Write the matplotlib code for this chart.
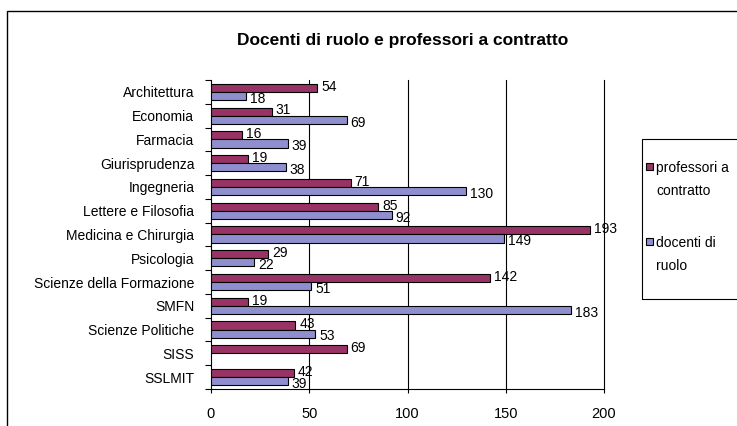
import matplotlib
matplotlib.use("Agg")
import matplotlib.pyplot as plt
import numpy as np
from matplotlib.patches import Rectangle

categories = ["Architettura", "Economia", "Farmacia", "Giurisprudenza", "Ingegneria",
              "Lettere e Filosofia", "Medicina e Chirurgia", "Psicologia",
              "Scienze della Formazione", "SMFN", "Scienze Politiche", "SISS", "SSLMIT"]
professori = [54, 31, 16, 19, 71, 85, 193, 29, 142, 19, 43, 69, 42]
docenti = [18, 69, 39, 38, 130, 92, 149, 22, 51, 183, 53, None, 39]
xticks = [0, 50, 100, 150, 200]

plt.rcParams['font.family'] = ['Liberation Sans', 'DejaVu Sans']

W, H = 737, 426
fig = plt.figure(figsize=(W/100, H/100), dpi=100)
fig.patch.set_facecolor('white')

# outer frame
fig.add_artist(Rectangle((7/W, -0.1), 1.2, 1 - 11/H + 0.1, transform=fig.transFigure,
                         fill=False, edgecolor='black', linewidth=1.0))

ax = fig.add_axes([211/W, 1 - 389/H, (604-211)/W, (389-80)/H])
c_prof = '#993366'
c_doc = '#8F8FCF'
h = 0.34
y = np.arange(len(categories))
for i, (p, d) in enumerate(zip(professori, docenti)):
    ax.barh(i - h/2, p, height=h, color=c_prof, edgecolor='black', linewidth=0.8, zorder=3)
    ax.text(p + 2, i - h/2 - 0.05, str(p), va='center', ha='left', fontsize=10, zorder=4)
    if d is not None:
        ax.barh(i + h/2, d, height=h, color=c_doc, edgecolor='black', linewidth=0.8, zorder=3)
        ax.text(d + 2, i + h/2 + 0.12, str(d), va='center', ha='left', fontsize=10, zorder=4)

ax.set_xlim(0, 200)
ax.set_ylim(len(categories) - 0.5, -0.5)
ax.set_xticks(xticks)
ax.set_xticklabels([str(v) for v in xticks], fontsize=10.5)
ax.set_yticks(y)
ax.set_yticklabels(categories, fontsize=10)
ax.set_yticks(np.arange(-0.5, len(categories), 1), minor=True)
ax.tick_params(axis='y', which='major', length=0, pad=12)
ax.tick_params(axis='y', which='minor', length=4, direction='out', width=0.8)
ax.tick_params(axis='x', which='major', length=3, direction='out', pad=10, width=0.8)
for v in xticks[1:]:
    ax.axvline(v, color='black', linewidth=0.8, zorder=1, clip_on=False)
ax.spines['top'].set_visible(False)
ax.spines['right'].set_visible(False)
for s in ['left', 'bottom']:
    ax.spines[s].set_linewidth(0.8)

fig.text(403/W, 1 - 41/H, "Docenti di ruolo e professori a contratto", ha='center', va='center',
         fontsize=12.5, fontweight='bold')

# legend
fig.add_artist(Rectangle((642/W, 1 - 299/H), 0.3, (299-139)/H, transform=fig.transFigure,
                         fill=False, edgecolor='black', linewidth=0.8))
for (yy, col, lab) in [(167, c_prof, "professori a\ncontratto"), (242, c_doc, "docenti di\nruolo")]:
    fig.add_artist(Rectangle((646/W, 1 - (yy+3)/H), 7/W, 7/H, transform=fig.transFigure,
                             facecolor=col, edgecolor='black', linewidth=0.8))
    fig.text(656/W, 1 - (yy-6)/H, lab, ha='left', va='top', fontsize=10, linespacing=1.8)

fig.savefig("out.png", dpi=100)
